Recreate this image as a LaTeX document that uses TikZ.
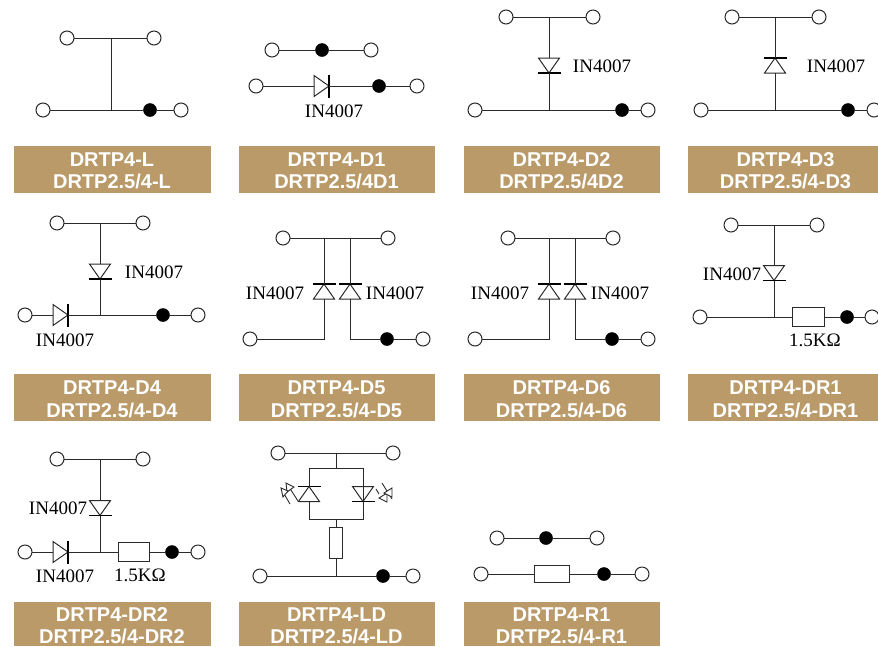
\documentclass[tikz,border=0pt]{standalone}
\usepackage{fontspec}
\setmainfont{Liberation Serif}
\newfontfamily\bansans{Liberation Sans}
\definecolor{banbrown}{HTML}{B99A68}
\definecolor{wire}{HTML}{2A2A2A}
\tikzset{
  wireline/.style={draw=wire,line width=1pt},
  openterm/.style={circle,draw=wire,fill=white,line width=1pt,minimum size=14pt,inner sep=0pt,outer sep=0pt},
  fillterm/.style={circle,draw=black,fill=black,line width=0.5pt,minimum size=13pt,inner sep=0pt,outer sep=0pt},
  resbox/.style={rectangle,draw=wire,fill=white,line width=0.9pt,inner sep=0pt,outer sep=0pt},
  partlab/.style={font=\fontsize{19}{21}\selectfont,text=black,inner sep=0pt},
  banbox/.style={rectangle,fill=banbrown,draw=none,inner sep=0pt,outer sep=0pt},
  bantext/.style={font=\bansans\bfseries\fontsize{20}{22}\selectfont,text=white,inner sep=0pt},
  diodetri/.style={draw=wire,fill=white,line width=1pt,line join=miter},
  diodebar/.style={draw=black,line width=1.9pt},
  ledhead/.style={draw=wire,fill=white,line width=0.9pt},
  ledshaft/.style={draw=wire,line width=0.9pt}
}
\newcommand{\OT}[3]{\node[openterm] (#1) at (#2,#3) {};}
\newcommand{\FD}[3]{\node[fillterm] (#1) at (#2,#3) {};}
% name, x left, y top, x right, y bottom
\newcommand{\RH}[5]{\node[resbox,minimum width={#4-#2},minimum height={#5-#3}] (#1) at ({(#2+#4)/2},{(#3+#5)/2}) {};}
% name, x, y, rotation: a = anode side, k = bar side
\newcommand{\DD}[4]{\begin{scope}[shift={(#2,#3)},rotate=#4]
  \coordinate (#1a) at (-7.5,0); \coordinate (#1k) at (7.5,0);
  \draw[diodetri] (-7.5,-10.5) -- (-7.5,10.5) -- (7.5,0) -- cycle;
  \draw[diodebar] (7.5,-11.5) -- (7.5,11.5);
\end{scope}}
\newcommand{\LB}[4]{\node[partlab] (#1) at (#2,#3) {#4};}
% id, x1, x2, ytop, ybot, xtext, y1, y2, line 1, line 2
\newcommand{\BN}[9]{\node[banbox,minimum width={#3-#2},minimum height={#5-#4}] (#1box) at ({(#2+#3)/2},{(#4+#5)/2}) {};
  \BNrest{#1}{#6}{#7}{#8}{#9}}
\newcommand{\BNrest}[5]{\def\bnid{#1}\def\bnx{#2}\def\bnya{#3}\def\bnyb{#4}\def\bnta{#5}\BNfinal}
\newcommand{\BNfinal}[1]{\node[bantext] (\bnid t1) at (\bnx,\bnya) {\bnta};\node[bantext] (\bnid t2) at (\bnx,\bnyb) {#1};}
\begin{document}
\begin{tikzpicture}[x=1pt,y=-1pt]
\useasboundingbox (0,0) rectangle (878,646);
\clip (0,0) rectangle (878,646);

% --- banners
\BN{L}{14}{211}{146}{193}{112}{160}{181}{DRTP4-L}{DRTP2.5/4-L}
\BN{Da}{239}{435}{146}{193}{336.5}{160}{181}{DRTP4-D1}{DRTP2.5/4D1}
\BN{Db}{464}{660}{146}{193}{561.5}{160}{181}{DRTP4-D2}{DRTP2.5/4D2}
\BN{Dc}{688}{883}{146}{193}{785.5}{160}{181}{DRTP4-D3}{DRTP2.5/4-D3}
\BN{Dd}{14}{211}{374}{421}{112}{388}{410.5}{DRTP4-D4}{DRTP2.5/4-D4}
\BN{De}{239}{435}{374}{421}{336.5}{388}{410.5}{DRTP4-D5}{DRTP2.5/4-D5}
\BN{Df}{464}{660}{374}{421}{561.5}{388}{410.5}{DRTP4-D6}{DRTP2.5/4-D6}
\BN{Ra}{688}{883}{374}{421}{785.5}{388}{410.5}{DRTP4-DR1}{DRTP2.5/4-DR1}
\BN{Rb}{14}{211}{602}{646}{112}{615}{636.5}{DRTP4-DR2}{DRTP2.5/4-DR2}
\BN{Ld}{239}{435}{602}{646}{336.5}{615}{636.5}{DRTP4-LD}{DRTP2.5/4-LD}
\BN{Ro}{464}{660}{602}{646}{561.5}{615}{636.5}{DRTP4-R1}{DRTP2.5/4-R1}

% --- DRTP4-L
\OT{la}{67}{38}\OT{lb}{154}{38}\OT{lc}{43}{110}\FD{ld}{150}{110}\OT{le}{181}{110}
\coordinate (lj1) at (111,38);\coordinate (lj2) at (111,110);
\draw[wireline] (la)--(lb) (lj1)--(lj2) (lc)--(ld)--(le);

% --- DRTP4-D1
\OT{aa}{272}{50}\FD{ab}{322}{50}\OT{ac}{371}{50}
\OT{ad}{256}{86}\DD{ax}{321.5}{86}{0}\FD{ae}{379}{86}\OT{af}{417}{86}
\draw[wireline] (aa)--(ab)--(ac) (ad)--(axa) (axk)--(ae)--(af);
\LB{al}{334}{111}{IN4007}

% --- DRTP4-D2
\OT{ba}{506}{17}\OT{bb}{593}{17}\OT{bc}{475}{110}\FD{bd}{622}{110}\OT{be}{648}{110}
\coordinate (bj1) at (549,17);\coordinate (bj2) at (549,110);
\DD{bx}{549}{65.5}{-90}
\draw[wireline] (ba)--(bb) (bj1)--(bxa) (bxk)--(bj2) (bc)--(bd)--(be);
\LB{bl}{602}{66}{IN4007}

% --- DRTP4-D3
\OT{ca}{732}{17}\OT{cb}{819}{17}\OT{cc}{701}{110}\FD{cd}{848}{110}\OT{ce}{874}{110}
\coordinate (cj1) at (775,17);\coordinate (cj2) at (775,110);
\DD{cx}{775}{65.5}{90}
\draw[wireline] (ca)--(cb) (cj1)--(cxk) (cxa)--(cj2) (cc)--(cd)--(ce);
\LB{cl}{836}{66}{IN4007}

% --- DRTP4-D4
\OT{da}{57}{223}\OT{db}{143}{223}\OT{dc}{25}{315}\FD{dd}{163}{315}\OT{de}{198}{315}
\coordinate (dj1) at (100,223);\coordinate (dj2) at (100,315);
\DD{dx}{100}{271.5}{-90}\DD{dy}{60.5}{315}{0}
\draw[wireline] (da)--(db) (dj1)--(dxa) (dxk)--(dj2) (dc)--(dya) (dyk)--(dd)--(de);
\LB{dl}{154}{272}{IN4007}\LB{dm}{65}{340}{IN4007}

% --- DRTP4-D5
\OT{ea}{283}{238}\OT{eb}{388}{238}\OT{ec}{250}{339}\FD{ed}{387}{339}\OT{ee}{423}{339}
\coordinate (ej1) at (324,238);\coordinate (ej2) at (350,238);
\coordinate (ej3) at (324,339);\coordinate (ej4) at (350,339);
\DD{ex}{324}{291.5}{90}\DD{ey}{350}{291.5}{90}
\draw[wireline] (ea)--(eb) (ej1)--(exk) (ej2)--(eyk) (exa)--(ej3)--(ec) (eya)--(ej4)--(ed)--(ee);
\LB{el}{275}{293}{IN4007}\LB{em}{395}{293}{IN4007}

% --- DRTP4-D6
\OT{fa}{508}{238}\OT{fb}{613}{238}\OT{fc}{475}{339}\FD{fd}{612}{339}\OT{fe}{648}{339}
\coordinate (fj1) at (549,238);\coordinate (fj2) at (575,238);
\coordinate (fj3) at (549,339);\coordinate (fj4) at (575,339);
\DD{fx}{549}{291.5}{90}\DD{fy}{575}{291.5}{90}
\draw[wireline] (fa)--(fb) (fj1)--(fxk) (fj2)--(fyk) (fxa)--(fj3)--(fc) (fya)--(fj4)--(fd)--(fe);
\LB{fl}{500}{293}{IN4007}\LB{fm}{620}{293}{IN4007}

% --- DRTP4-DR1
\OT{ga}{731}{225}\OT{gb}{817}{225}\OT{gc}{700}{317}\FD{gd}{847}{317}\OT{ge}{872}{317}
\coordinate (gj1) at (774,225);\coordinate (gj2) at (774,317);
\DD{gx}{774}{273}{-90}\RH{gr}{792}{307.5}{824}{326.5}
\draw[wireline] (ga)--(gb) (gj1)--(gxa) (gxk)--(gj2) (gc)--(gr)--(gd)--(ge);
\LB{gl}{732}{274}{IN4007}\LB{gm}{815}{340}{1.5KΩ}

% --- DRTP4-DR2
\OT{ha}{57}{459}\OT{hb}{143}{459}\OT{hc}{25}{552}\FD{hd}{172}{552}\OT{he}{198}{552}
\coordinate (hj1) at (100,459);\coordinate (hj2) at (100,552);
\DD{hx}{100}{508}{-90}\DD{hy}{60.5}{552}{0}\RH{hr}{118}{542.5}{149}{561.5}
\draw[wireline] (ha)--(hb) (hj1)--(hxa) (hxk)--(hj2) (hc)--(hya) (hyk)--(hr)--(hd)--(he);
\LB{hl}{58}{508}{IN4007}\LB{hm}{65}{576}{IN4007}\LB{hn}{140}{575}{1.5KΩ}

% --- DRTP4-LD
\OT{ia}{278}{453}\OT{ib}{393}{453}\OT{ic}{260}{576}\FD{id}{383}{576}\OT{ie}{413}{576}
\coordinate (ij1) at (336,453);\coordinate (ij2) at (336,468);
\coordinate (ij3) at (309,468);\coordinate (ij4) at (363,468);
\coordinate (ij5) at (309,519);\coordinate (ij6) at (363,519);
\coordinate (ij7) at (336,519);\coordinate (ij8) at (336,576);
\DD{ix}{309}{494}{90}\DD{iy}{363}{494}{-90}
\RH{ir}{329.5}{527}{342.5}{558}
\draw[wireline] (ia)--(ib) (ij1)--(ij2) (ij3)--(ij4)
  (ij3)--(ixk) (ixa)--(ij5)--(ij6)--(iya) (iyk)--(ij4)
  (ij7)--(ir)--(ij8) (ic)--(id)--(ie);
% LED arrows, left
\draw[ledshaft] (298,501)--(289,487) (290,504)--(283,492);
\draw[ledhead] (286,483)--(294,487)--(287,492)--cycle;
\draw[ledhead] (281,488)--(288,491)--(283,497)--cycle;
% LED arrows, right
\draw[ledshaft] (382,483)--(392,499) (376,489)--(379,494);
\draw[ledhead] (379,498)--(387,493)--(387,502)--cycle;
\draw[ledhead] (384,493)--(392,488)--(392,497)--cycle;

% --- DRTP4-R1
\OT{ja}{497}{538}\FD{jb}{546}{538}\OT{jc}{597}{538}
\OT{jd}{481}{574}\RH{jr}{534}{565.5}{569}{582.5}\FD{je}{604}{574}\OT{jf}{642}{574}
\draw[wireline] (ja)--(jb)--(jc) (jd)--(jr)--(je)--(jf);
\end{tikzpicture}
\end{document}
